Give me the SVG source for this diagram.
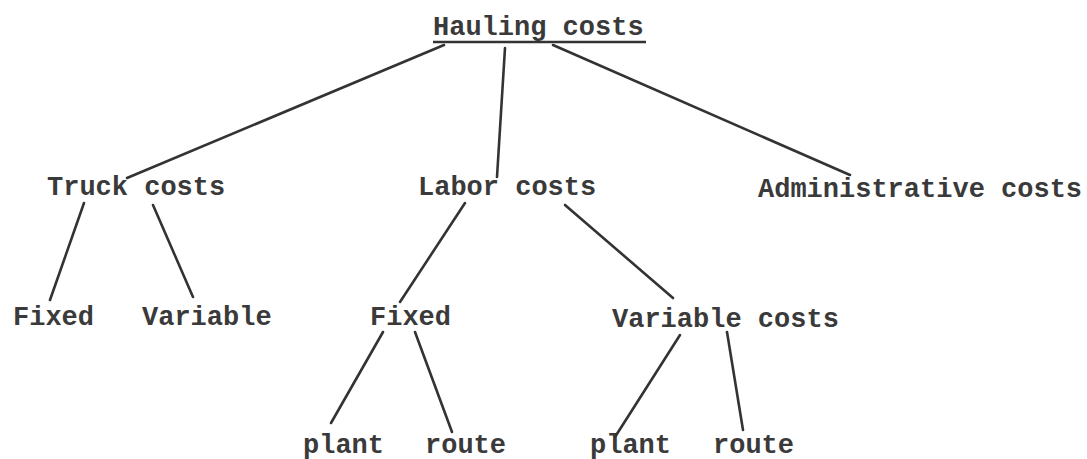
<svg xmlns="http://www.w3.org/2000/svg" width="1087" height="459" viewBox="0 0 1087 459">
<style>
text{font-family:"Liberation Mono","DejaVu Sans Mono",monospace;font-size:27px;font-weight:bold;fill:#3a3a3a}
.c line{stroke:#333;stroke-width:2.6;stroke-linecap:round}
</style>
<rect width="1087" height="459" fill="#fff"/>
<g id="hauling"><text x="433" y="35">Hauling costs</text><line x1="433" y1="42" x2="646" y2="42" stroke="#333" stroke-width="2.6"/></g>
<g id="truck"><text x="47" y="195">Truck costs</text></g>
<g id="labor"><text x="418" y="195">Labor costs</text></g>
<g id="admin"><text x="758" y="197">Administrative costs</text></g>
<g id="truck-fixed"><text x="13" y="325">Fixed</text></g>
<g id="truck-variable"><text x="142" y="325">Variable</text></g>
<g id="labor-fixed"><text x="370" y="325">Fixed</text></g>
<g id="labor-variable"><text x="612" y="327">Variable costs</text></g>
<g id="fixed-plant"><text x="303" y="453">plant</text></g>
<g id="fixed-route"><text x="425" y="453">route</text></g>
<g id="var-plant"><text x="590" y="453">plant</text></g>
<g id="var-route"><text x="713" y="453">route</text></g>
<g class="c" id="connectors">
<line x1="444" y1="45" x2="127" y2="178"/>
<line x1="505" y1="48" x2="497" y2="177"/>
<line x1="553" y1="45" x2="850" y2="175"/>
<line x1="84" y1="203" x2="50" y2="300"/>
<line x1="153" y1="205" x2="193" y2="297"/>
<line x1="465" y1="203" x2="400" y2="302"/>
<line x1="565" y1="205" x2="673" y2="298"/>
<line x1="383" y1="332" x2="331" y2="423"/>
<line x1="415" y1="332" x2="452" y2="432"/>
<line x1="680" y1="335" x2="615" y2="437"/>
<line x1="727" y1="332" x2="743" y2="430"/>
</g>
</svg>
